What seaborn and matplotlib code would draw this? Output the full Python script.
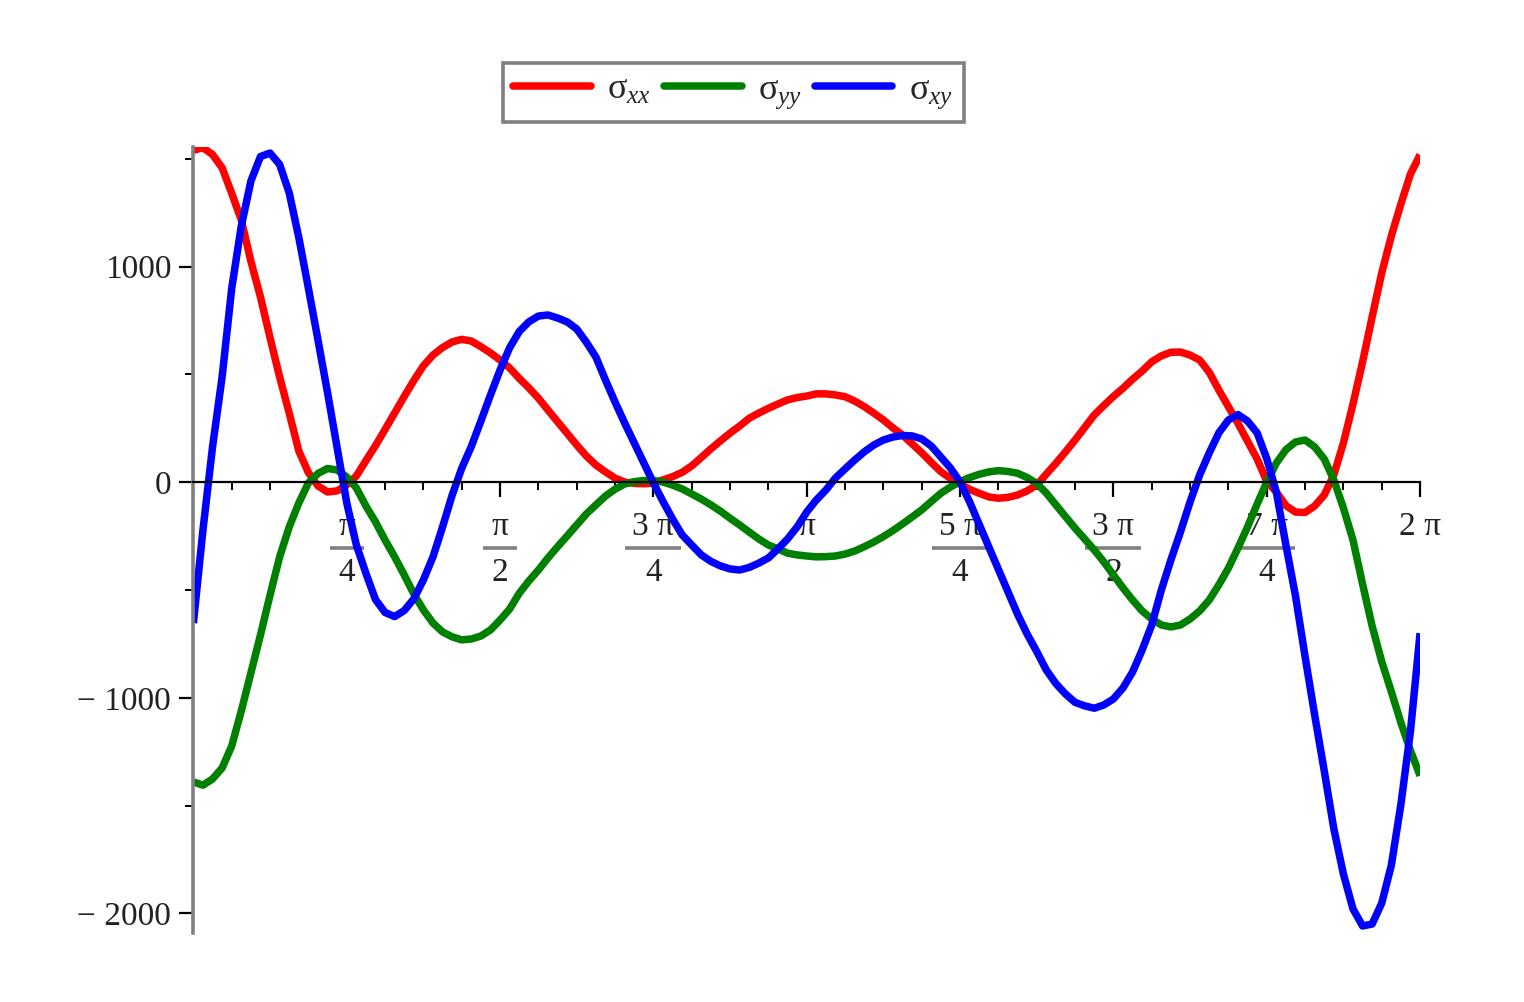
import numpy as np
import pandas as pd
import matplotlib
matplotlib.use("Agg")
import matplotlib.pyplot as plt
from matplotlib.lines import Line2D
import seaborn as sns

# sampling angles: values every pi/64 on [0, 2pi]
theta = np.linspace(0, 2 * np.pi, 129)

sigma_xx = [1540, 1552, 1520, 1458, 1340, 1216, 1025, 859, 670, 488, 320, 145, 45, -17,
            -45, -40, -12, 29, 100, 170, 245, 322, 398, 472, 540, 590, 625, 651, 663,
            655, 629, 600, 567, 530, 482, 438, 390, 335, 281, 227, 173, 122, 80, 48, 19,
            1, -5, -7, -3, 11, 26, 46, 76, 115, 155, 192, 228, 261, 297, 321, 343, 363,
            382, 393, 400, 410, 410, 405, 397, 377, 351, 321, 289, 252, 219, 178, 137,
            92, 49, 18, -8, -33, -51, -68, -74, -70, -59, -40, -13, 38, 88, 141, 196,
            254, 312, 356, 398, 436, 478, 516, 559, 586, 603, 604, 590, 567, 510, 428,
            350, 273, 190, 108, 5, -45, -108, -138, -140, -110, -59, 34, 182, 363, 558,
            767, 971, 1142, 1291, 1430, 1519]
sigma_yy = [-1390, -1405, -1376, -1325, -1223, -1060, -884, -708, -523, -346, -207, -96,
            -3, 41, 64, 57, 25, -26, -110, -184, -268, -346, -430, -518, -592, -653, -694,
            -717, -731, -727, -713, -685, -639, -588, -515, -458, -407, -351, -299, -249,
            -198, -147, -105, -64, -32, -8, 3, 8, 8, 1, -13, -31, -54, -78, -105, -134,
            -167, -198, -231, -263, -291, -309, -329, -337, -342, -346, -345, -342, -333,
            -319, -299, -277, -252, -224, -193, -161, -128, -89, -51, -22, 3, 22, 37, 48,
            54, 50, 42, 22, -5, -50, -105, -159, -213, -263, -314, -369, -430, -490, -546,
            -597, -634, -662, -671, -662, -634, -597, -546, -476, -398, -305, -207, -101,
            0, 89, 151, 187, 196, 164, 108, 11, -119, -268, -472, -667, -832, -971, -1115,
            -1245, -1361]
sigma_xy = [-653, -220, 165, 490, 900, 1189, 1397, 1511, 1527, 1474, 1342, 1135, 900, 660,
            415, 160, -95, -290, -422, -544, -604, -623, -595, -541, -453, -346, -207, -60,
            65, 166, 284, 405, 521, 624, 699, 744, 771, 776, 762, 744, 711, 650, 581, 474,
            372, 275, 182, 90, -3, -89, -170, -244, -291, -337, -367, -388, -402, -407,
            -395, -375, -351, -309, -263, -207, -138, -82, -36, 20, 62, 103, 141, 173, 196,
            210, 217, 215, 201, 168, 117, 66, 1, -91, -196, -300, -404, -509, -612, -704,
            -785, -871, -934, -982, -1021, -1037, -1048, -1033, -1005, -954, -880, -778,
            -662, -500, -360, -230, -91, 34, 136, 229, 289, 314, 284, 229, 110, -45, -291,
            -527, -808, -1079, -1338, -1607, -1817, -1979, -2058, -2049, -1952, -1777,
            -1494, -1154, -700]

series_names = ["σ$_{xx}$", "σ$_{yy}$", "σ$_{xy}$"]
series_colors = ["#ff0000", "#008000", "#0000ff"]

# x ticks in units of pi, drawn as stacked fractions
xtick_pi = [0.25, 0.5, 0.75, 1.0, 1.25, 1.5, 1.75, 2.0]
xtick_num = ["π", "π", "3 π", "π", "5 π", "3 π", "7 π", "2 π"]
xtick_den = ["4", "2", "4", "", "4", "2", "4", ""]
ytick_values = [-2000, -1000, 0, 1000]
ytick_labels = ["\u2212 2000", "\u2212 1000", "0", "1000"]
yminor_values = [-1500, -500, 500, 1500]

df = pd.DataFrame({
    "theta": np.tile(theta, 3),
    "stress": np.concatenate([sigma_xx, sigma_yy, sigma_xy]),
    "component": np.repeat(series_names, len(theta)),
})

sns.set_style("white")
plt.rcParams["font.family"] = ["Liberation Serif", "DejaVu Serif"]
plt.rcParams["mathtext.fontset"] = "custom"
plt.rcParams["mathtext.rm"] = "Liberation Serif"
plt.rcParams["mathtext.it"] = "Liberation Serif:italic"

fig = plt.figure(figsize=(15.24, 10.02), dpi=100)
ax = fig.add_axes([0.1269, 0.0690, 0.8049, 0.7847])

sns.lineplot(data=df, x="theta", y="stress", hue="component",
             palette=dict(zip(series_names, series_colors)), linewidth=5.4,
             estimator=None, sort=False, legend=False, ax=ax)
for ln in ax.get_lines():
    ln.set_solid_joinstyle("round")
    ln.set_solid_capstyle("butt")

ax.set_xlim(0, 2 * np.pi)
ax.set_ylim(-2090, 1557)
ax.set_xlabel("")
ax.set_ylabel("")

for s in ["top", "right"]:
    ax.spines[s].set_visible(False)
ax.spines["bottom"].set_position(("data", 0))
ax.spines["bottom"].set_color("black")
ax.spines["bottom"].set_linewidth(1.6)
ax.spines["left"].set_color("#808080")
ax.spines["left"].set_linewidth(2.6)

ax.set_xticks(np.array(xtick_pi) * np.pi)
ax.set_xticklabels([])
ax.set_xticks(np.arange(1, 32) * np.pi / 16, minor=True)
ax.tick_params(axis="x", which="both", bottom=True, direction="out", color="black")
ax.tick_params(axis="x", which="major", length=11, width=1.6)
ax.tick_params(axis="x", which="minor", length=6, width=1.4)

ax.set_yticks(ytick_values, ytick_labels)
ax.set_yticks(yminor_values, minor=True)
ax.tick_params(axis="y", which="both", left=True, direction="out", color="black")
ax.tick_params(axis="y", which="major", length=10, width=1.6, labelsize=24, pad=6,
               labelcolor="#222222")
ax.tick_params(axis="y", which="minor", length=6, width=1.4)

# fraction style tick labels below the x axis
for t, num, den in zip(xtick_pi, xtick_num, xtick_den):
    x = t * np.pi
    ax.text(x, -207, num, ha="center", va="center", fontsize=24, color="#222222", zorder=1)
    if den:
        ax.plot([x], [-305], marker="_", ms=25 if len(num) == 1 else 41, mew=2.6,
                color="#808080", zorder=1, clip_on=False)
        ax.text(x, -418, den, ha="center", va="center", fontsize=24, color="#222222", zorder=1)

handles = [Line2D([], [], color=c, lw=5.4) for c in series_colors]
leg = ax.legend(handles, series_names, loc="center", bbox_to_anchor=(0.481, 0.9077),
                bbox_transform=fig.transFigure, ncol=3, frameon=True, fancybox=False,
                edgecolor="#808080", framealpha=1, fontsize=26, handlelength=2.15,
                handletextpad=0.45, columnspacing=0.35, borderpad=0.3)
leg.get_frame().set_linewidth(2.6)

fig.savefig("out.png", dpi=100)
